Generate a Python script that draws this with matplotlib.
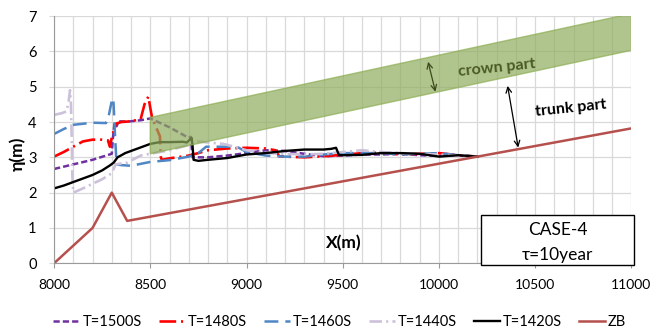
import numpy as np
import matplotlib
matplotlib.use("Agg")
import matplotlib.pyplot as plt
from matplotlib.patches import Polygon, Rectangle
from matplotlib.ticker import MultipleLocator

plt.rcParams['font.family'] = ['Lato', 'DejaVu Sans']
plt.rcParams['lines.scale_dashes'] = False

# bed profile
zb_x = [8000, 8200, 8300, 8380, 11000]
zb_y = [0.0, 1.0, 2.0, 1.2, 3.82]

# water surface at each time
t1500_x = [8000, 8100, 8200, 8300, 8305, 8315, 8325, 8335, 8380, 8450, 8500, 8520, 8600,
           8650, 8700, 8710, 8720, 8800, 8900, 9000, 9100, 9200, 9300, 9400, 9500, 9600,
           9700, 9800, 9900, 10000, 10100, 10200]
t1500_y = [2.67, 2.8, 2.93, 3.1, 3.5, 4.0, 3.88, 4.02, 4.01, 4.05, 4.1, 4.05, 3.85,
           3.7, 3.55, 3.58, 3.0, 3.0, 3.05, 3.12, 3.2, 3.18, 3.1, 3.03, 3.05, 3.08,
           3.08, 3.1, 3.06, 3.04, 3.05, 3.02]

t1480_x = [8000, 8050, 8100, 8150, 8200, 8250, 8280, 8290, 8300, 8320, 8350, 8400, 8450,
           8470, 8490, 8500, 8510, 8550, 8555, 8560, 8600, 8700, 8750, 8800, 8900, 9000,
           9100, 9150, 9170, 9200, 9300, 9400, 9500, 9600, 9700, 9800, 9900, 10000,
           10100, 10200]
t1480_y = [3.02, 3.15, 3.3, 3.45, 3.5, 3.5, 3.48, 3.3, 3.55, 3.95, 4.0, 4.02, 4.08,
           4.5, 4.72, 4.4, 4.1, 3.6, 3.0, 2.93, 2.97, 3.05, 3.12, 3.2, 3.25, 3.27,
           3.25, 3.2, 3.03, 3.02, 3.0, 3.03, 3.07, 3.12, 3.13, 3.08, 3.1, 3.12,
           3.06, 3.02]

t1460_x = [8000, 8050, 8100, 8200, 8270, 8285, 8300, 8308, 8312, 8318, 8325, 8350, 8400,
           8500, 8600, 8700, 8750, 8790, 8850, 8950, 9000, 9050, 9100, 9200, 9300, 9400,
           9500, 9600, 9700, 9800, 9900, 10000, 10100, 10200]
t1460_y = [3.66, 3.8, 3.92, 3.98, 3.97, 4.2, 4.6, 4.67, 4.2, 3.5, 2.8, 2.78, 2.76,
           2.87, 2.92, 3.02, 3.12, 3.3, 3.3, 3.3, 3.15, 3.1, 3.05, 3.02, 3.02, 3.08,
           3.12, 3.12, 3.12, 3.08, 3.1, 3.12, 3.06, 3.02]

t1440_x = [8000, 8040, 8065, 8075, 8083, 8088, 8092, 8095, 8100, 8150, 8200, 8250, 8300,
           8320, 8380, 8450, 8500, 8600, 8700, 8750, 8800, 8880, 8950, 9000, 9100, 9200,
           9300, 9400, 9500, 9600, 9700, 9800, 9900, 10000, 10100, 10200]
t1440_y = [4.2, 4.25, 4.3, 4.55, 4.9, 4.5, 3.5, 2.5, 2.0, 2.12, 2.25, 2.38, 2.55,
           2.8, 2.85, 3.05, 3.1, 3.2, 3.35, 3.45, 3.42, 3.38, 3.28, 3.2, 3.12, 3.1,
           3.08, 3.1, 3.15, 3.2, 3.15, 3.12, 3.1, 3.08, 3.05, 3.02]

t1420_x = [8000, 8050, 8100, 8150, 8200, 8250, 8290, 8310, 8330, 8370, 8420, 8500, 8550,
           8600, 8670, 8690, 8705, 8715, 8720, 8725, 8750, 8800, 8900, 9000, 9100, 9200,
           9300, 9400, 9440, 9465, 9480, 9500, 9600, 9700, 9800, 9900, 10000, 10100, 10200]
t1420_y = [2.12, 2.2, 2.3, 2.4, 2.5, 2.63, 2.77, 2.85, 3.0, 3.12, 3.22, 3.38, 3.43,
           3.43, 3.44, 3.42, 3.5, 3.55, 3.3, 2.93, 2.9, 2.93, 2.98, 3.08, 3.12, 3.18,
           3.22, 3.22, 3.24, 3.27, 3.07, 3.06, 3.07, 3.12, 3.12, 3.1, 3.02, 3.06, 3.02]

# crown part band
band_x = [8500, 11000, 11000, 8500]
band_y = [3.1, 6.03, 7.07, 4.13]

fig = plt.figure(figsize=(6.51, 3.34), dpi=100)
ax = fig.add_axes([0.083, 0.2117, 0.887, 0.7403])

ax.plot(t1500_x, t1500_y, color='#7030a0', lw=1.8, dashes=(4.5, 2.2), label='T=1500S')
ax.plot(t1480_x, t1480_y, color='#ff0000', lw=1.9, dashes=(12, 3.5, 1.5, 3.5), label='T=1480S')
ax.plot(t1460_x, t1460_y, color='#4f86c6', lw=1.8, dashes=(10, 5), label='T=1460S')
ax.plot(t1440_x, t1440_y, color='#ccc1da', lw=1.9, dashes=(9, 3, 1.5, 3), label='T=1440S')
ax.plot(t1420_x, t1420_y, color='black', lw=1.7, label='T=1420S')
ax.plot(zb_x, zb_y, color='#b5504d', lw=1.8, label='ZB')

band = Polygon(np.column_stack([band_x, band_y]), closed=True, facecolor='#8fac5e',
               edgecolor='#8cae52', lw=1.0, alpha=0.7, zorder=5)
ax.add_patch(band)

ax.annotate('', xy=(9985, 4.78), xytext=(9940, 5.78),
            arrowprops=dict(arrowstyle='<->', color='#3b4a1c', lw=0.9), zorder=6)
ax.annotate('', xy=(10414, 3.2), xytext=(10354, 5.1),
            arrowprops=dict(arrowstyle='<->', color='black', lw=0.9), zorder=6)
ax.text(10302, 5.52, 'crown part', color='#4a5a22', fontsize=11.5, fontweight='bold',
        ha='center', va='center', rotation=6, zorder=7)
ax.text(10683, 4.40, 'trunk part', color='black', fontsize=11.5, fontweight='bold',
        ha='center', va='center', rotation=6, zorder=7)
ax.text(9503, 0.58, 'X(m)', fontsize=12.5, fontweight='bold', ha='center', va='center')

ax.add_patch(Rectangle((0.74, -0.008), 0.265, 0.202, transform=ax.transAxes,
                       facecolor='white', edgecolor='black', lw=1.0, clip_on=False, zorder=8))
ax.text(0.872, 0.135, 'CASE-4', transform=ax.transAxes, fontsize=12.5,
        ha='center', va='center', zorder=9)
ax.text(0.872, 0.034, 'τ=10year', transform=ax.transAxes, fontsize=12.5,
        ha='center', va='center', zorder=9)

ax.set_xlim(8000, 11000)
ax.set_ylim(0, 7)
ax.xaxis.set_major_locator(MultipleLocator(500))
ax.xaxis.set_minor_locator(MultipleLocator(100))
ax.yaxis.set_major_locator(MultipleLocator(1))
ax.grid(True, which='both', axis='x', color='#d9d9d9', lw=0.9)
ax.grid(True, which='major', axis='y', color='#d9d9d9', lw=0.9)
ax.set_axisbelow(True)
for s in ['top', 'right']:
    ax.spines[s].set_visible(False)
for s in ['left', 'bottom']:
    ax.spines[s].set_color('#9a9a9a')
ax.tick_params(axis='x', which='major', length=3.5, color='#9a9a9a', pad=8, labelsize=10)
ax.tick_params(axis='x', which='minor', length=0)
ax.tick_params(axis='y', length=3.5, color='#d9d9d9', pad=9, labelsize=10.5)

fig.text(0.027, 0.54, 'η(m)', rotation=90, fontsize=12.5, fontweight='bold',
         ha='center', va='center')

fig.legend(loc='center', bbox_to_anchor=(0.522, 0.036), ncol=6, frameon=False,
           fontsize=10.5, handlelength=1.8, handletextpad=0.2, columnspacing=1.15)

fig.savefig('out.png', dpi=100)
